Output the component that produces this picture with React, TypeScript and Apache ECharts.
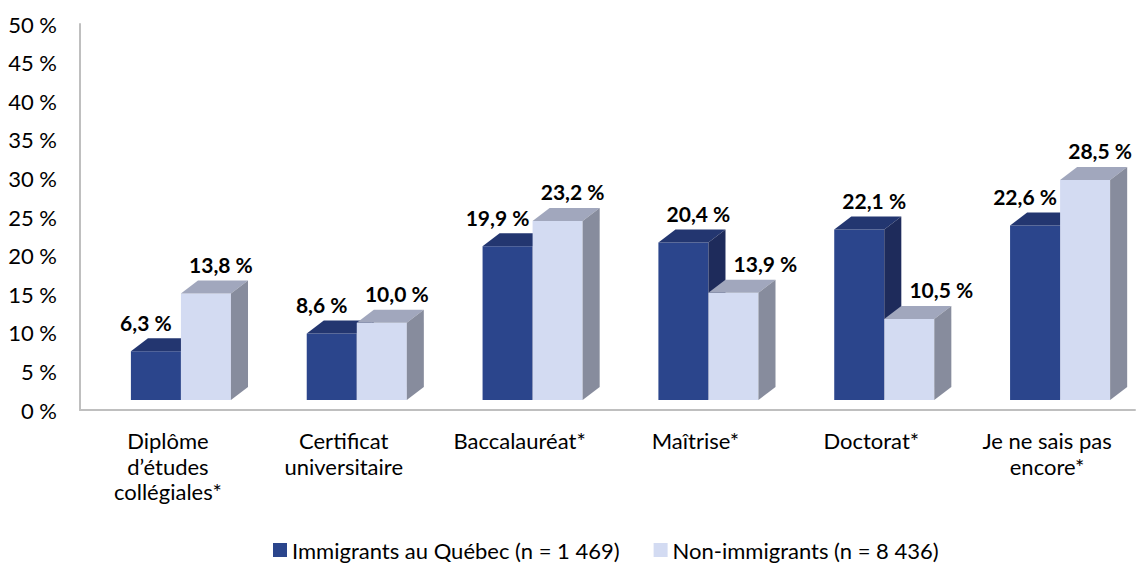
import React, { useEffect, useRef } from "react";
import * as echarts from "echarts";

const categories = [
  "Diplôme\nd’études\ncollégiales*",
  "Certificat\nuniversitaire",
  "Baccalauréat*",
  "Maîtrise*",
  "Doctorat*",
  "Je ne sais pas\nencore*",
];
const immigrants = [6.3, 8.6, 19.9, 20.4, 22.1, 22.6];
const nonImmigrants = [13.8, 10.0, 23.2, 13.9, 10.5, 28.5];
const seriesNames = ["Immigrants au Québec (n = 1 469)", "Non-immigrants (n = 8 436)"];
const yMax = 50;
const yInterval = 5;

const FONT = "Lato, 'Open Sans', sans-serif";

const palettes = [
  { front: "#2B458C", top: "#233670", side: "#1E2B5B" },
  { front: "#D3DBF2", top: "#A1A7BD", side: "#878C9D" },
];

const fmt = (v: number) => v.toFixed(1).replace(".", ",") + " %";

function makeRender(which: number) {
  return (params: any, api: any) => {
    const idx = api.value(0);
    const v = api.value(1);
    const base = api.coord([idx, 0]);
    const c = base[0];
    const y0 = base[1];
    const yv = api.coord([idx, v])[1];
    const band = api.size([1, 0])[0];
    const w = band * 0.2845;
    const off = band * 0.074;
    const dx = band * 0.097;
    const dy = 13;
    const lift = 10;
    const L = which === 0 ? c + off - w : c + off;
    const R = L + w;
    const B = y0 - lift;
    const T = yv - lift;
    const p = palettes[which];
    let lx = (L + R) / 2;
    if (which === 0) {
      lx += v > nonImmigrants[idx] ? 15 : -10;
    } else {
      lx += immigrants[idx] > v ? 32 : 15;
    }
    return {
      type: "group",
      children: [
        {
          type: "rect",
          shape: { x: L, y: T, width: w, height: B - T },
          style: { fill: p.front },
        },
        {
          type: "polygon",
          shape: { points: [[L, T], [L + dx, T - dy], [R + dx, T - dy], [R, T]] },
          style: { fill: p.top },
        },
        {
          type: "polygon",
          shape: { points: [[R, T], [R + dx, T - dy], [R + dx, B - dy], [R, B]] },
          style: { fill: p.side },
        },
        {
          type: "text",
          style: {
            text: fmt(v),
            x: lx,
            y: T - 29,
            align: "center",
            verticalAlign: "middle",
            fill: "#000",
            font: `bold 21px ${FONT}`,
          },
        },
      ],
    };
  };
}

export default function App() {
  const ref = useRef<HTMLDivElement>(null);
  useEffect(() => {
    if (!ref.current) return;
    const chart = echarts.init(ref.current, undefined, { renderer: "svg" });
    chart.setOption({
      animation: false,
      backgroundColor: "#fff",
      grid: { left: 80, right: 3, top: 24, bottom: 153 },
      legend: {
        left: 268,
        top: 532,
        itemWidth: 14,
        itemHeight: 14,
        itemGap: 34,
        icon: "rect",
        textStyle: { fontSize: 22, fontFamily: FONT, color: "#000", lineHeight: 26 },
        data: seriesNames,
      },
      xAxis: {
        type: "category",
        data: categories,
        axisLine: { show: true, lineStyle: { color: "#BFBFBF", width: 2 } },
        axisTick: { show: false },
        axisLabel: {
          interval: 0,
          fontSize: 22,
          fontFamily: FONT,
          color: "#000",
          lineHeight: 25.5,
          margin: 18,
        },
      },
      yAxis: {
        type: "value",
        min: 0,
        max: yMax,
        interval: yInterval,
        axisLine: { show: true, lineStyle: { color: "#BFBFBF", width: 2 } },
        axisTick: { show: false },
        splitLine: { show: false },
        axisLabel: {
          formatter: "{value} %",
          fontSize: 22,
          fontFamily: FONT,
          color: "#000",
          margin: 23,
        },
      },
      series: [immigrants, nonImmigrants].map((arr, s) => ({
        type: "custom",
        name: seriesNames[s],
        itemStyle: { color: palettes[s].front },
        renderItem: makeRender(s),
        encode: { x: 0, y: 1 },
        data: arr.map((v, i) => [i, v]),
        z: 2 + s,
      })),
    });
    return () => chart.dispose();
  }, []);
  return (
    <div
      ref={ref}
      style={{ position: "fixed", left: 0, top: 0, width: 1138, height: 563 }}
    />
  );
}
